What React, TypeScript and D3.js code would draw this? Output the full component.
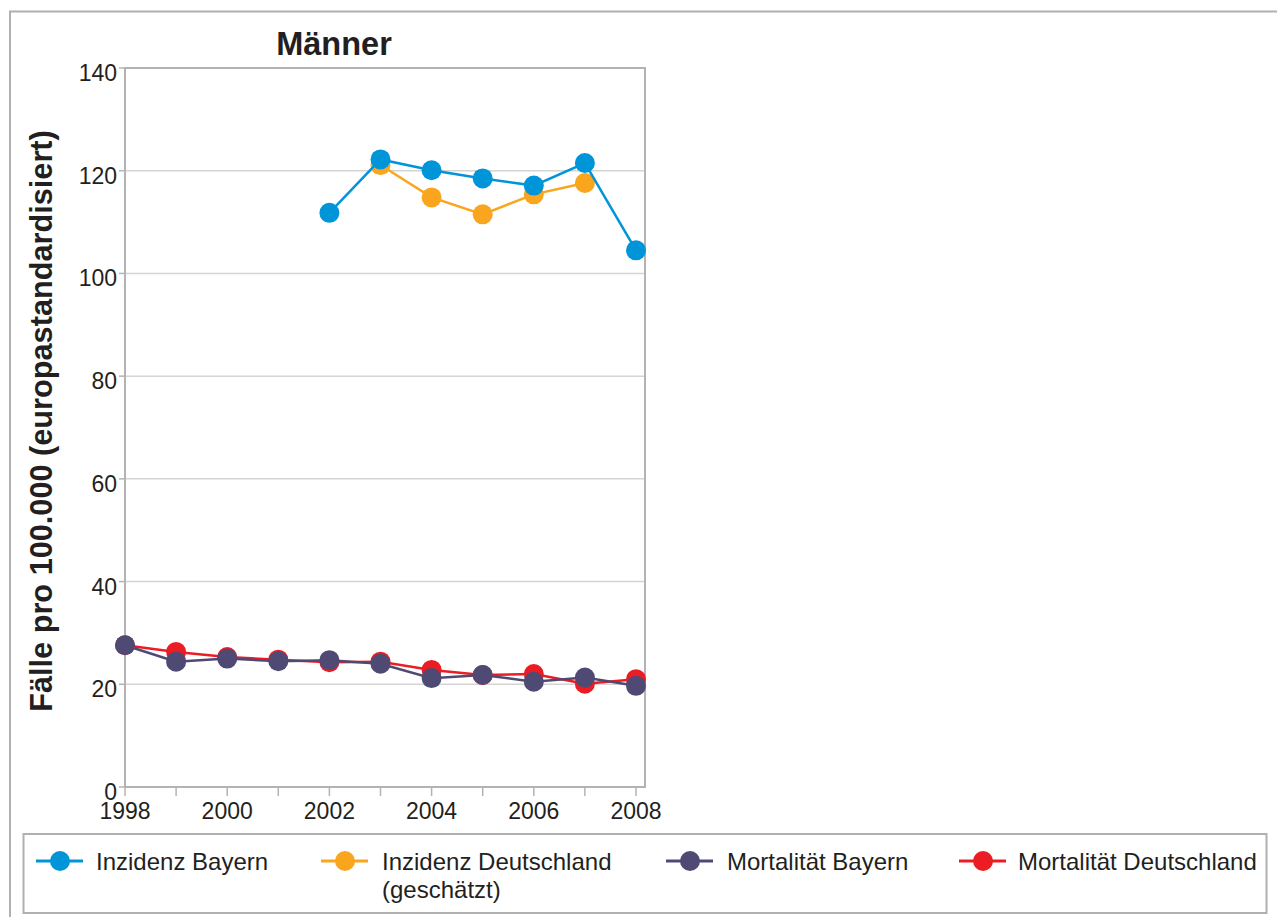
import React from "react";
import * as d3 from "d3";

const years = [1998, 1999, 2000, 2001, 2002, 2003, 2004, 2005, 2006, 2007, 2008];
const inzidenzBayern: (number | null)[] = [null, null, null, null, 111.8, 122.2, 120.1, 118.5, 117.1, 121.5, 104.5];
const inzidenzDeutschland: (number | null)[] = [null, null, null, null, null, 121.1, 114.8, 111.5, 115.4, 117.6, null];
const mortalitaetBayern: (number | null)[] = [27.6, 24.4, 25.0, 24.5, 24.7, 24.0, 21.2, 21.8, 20.5, 21.3, 19.7];
const mortalitaetDeutschland: (number | null)[] = [27.6, 26.3, 25.3, 24.8, 24.3, 24.4, 22.8, 21.8, 22.0, 20.1, 21.0];
const yTicks = [0, 20, 40, 60, 80, 100, 120, 140];
const xTickLabels = [1998, 2000, 2002, 2004, 2006, 2008];

const seriesNames = ["Inzidenz Bayern", "Inzidenz Deutschland", "Mortalität Bayern", "Mortalität Deutschland"];
const seriesColors = ["#0095d9", "#f9a61e", "#4f4a74", "#ec1c24"];
const seriesData = [inzidenzBayern, inzidenzDeutschland, mortalitaetBayern, mortalitaetDeutschland];
const drawOrder = [1, 0, 3, 2];

const FONT = "'Liberation Sans', Arial, Helvetica, sans-serif";

export default function App() {
  const W = 1277, H = 917;
  const left = 125, right = 645, top = 68, bottom = 787;
  const x = d3.scaleLinear().domain([1998, 2008]).range([left, 636]);
  const y = d3.scaleLinear().domain([0, 140]).range([bottom, top]);
  const line = d3
    .line<[number, number | null]>()
    .defined((d) => d[1] != null)
    .x((d) => x(d[0]))
    .y((d) => y(d[1] as number));

  const legendItems = [
    { cx: 60, tx: 96 },
    { cx: 345, tx: 382 },
    { cx: 690, tx: 727 },
    { cx: 983, tx: 1018 },
  ];

  return (
    <svg
      width={W}
      height={H}
      style={{ position: "fixed", left: 0, top: 0, display: "block", background: "#fff" }}
      fontFamily={FONT}
    >
      <rect x={0} y={0} width={W} height={H} fill="#fff" />
      {/* outer frame */}
      <path d={`M10,${H + 5} V11.5 H${W + 5}`} fill="none" stroke="#b0b0b0" strokeWidth={2} />

      {/* title */}
      <text x={334} y={55} textAnchor="middle" fontSize={32.5} fontWeight="bold" fill="#231f20">
        Männer
      </text>

      {/* gridlines */}
      {yTicks.slice(1, -1).map((t) => (
        <line key={t} x1={left} x2={right} y1={y(t)} y2={y(t)} stroke="#d4d4d4" strokeWidth={1.5} />
      ))}
      {/* plot frame */}
      <rect x={left} y={top} width={right - left} height={bottom - top} fill="none" stroke="#b3b3b3" strokeWidth={2} />
      {/* y ticks */}
      {yTicks.map((t) => (
        <g key={t}>
          <line x1={left - 6} x2={left} y1={y(t)} y2={y(t)} stroke="#b3b3b3" strokeWidth={1.5} />
          <text x={left - 8} y={y(t) + 13} textAnchor="end" fontSize={23} fill="#231f20">
            {t}
          </text>
        </g>
      ))}
      {/* x ticks */}
      {years.map((yr) => (
        <line key={yr} x1={x(yr)} x2={x(yr)} y1={bottom} y2={bottom + 9} stroke="#b3b3b3" strokeWidth={1.5} />
      ))}
      {xTickLabels.map((yr) => (
        <text key={yr} x={x(yr)} y={819} textAnchor="middle" fontSize={23} fill="#231f20">
          {yr}
        </text>
      ))}

      {/* y title */}
      <text
        transform={`translate(52,421) rotate(-90)`}
        textAnchor="middle"
        fontSize={30.7}
        fontWeight="bold"
        fill="#231f20"
      >
        Fälle pro 100.000 (europastandardisiert)
      </text>

      {/* series */}
      {drawOrder.map((si) => {
        const pts = years.map((yr, i) => [yr, seriesData[si][i]] as [number, number | null]);
        return (
          <g key={si}>
            <path d={line(pts) || ""} fill="none" stroke={seriesColors[si]} strokeWidth={2.5} />
            {pts
              .filter((p) => p[1] != null)
              .map((p) => (
                <circle key={p[0]} cx={x(p[0])} cy={y(p[1] as number)} r={10} fill={seriesColors[si]} />
              ))}
          </g>
        );
      })}

      {/* legend */}
      <rect x={23.5} y={834} width={1243} height={79} fill="#fff" stroke="#b0b0b0" strokeWidth={2} />
      {seriesNames.map((name, i) => {
        const it = legendItems[i];
        const cy = 861;
        return (
          <g key={name}>
            <line x1={it.cx - 24} x2={it.cx + 23} y1={cy} y2={cy} stroke={seriesColors[i]} strokeWidth={3} />
            <circle cx={it.cx} cy={cy} r={10} fill={seriesColors[i]} />
            {i === 1 ? (
              <text x={it.tx} y={870} fontSize={24} fill="#231f20">
                <tspan x={it.tx}>Inzidenz Deutschland</tspan>
                <tspan x={it.tx} y={898}>(geschätzt)</tspan>
              </text>
            ) : (
              <text x={it.tx} y={870} fontSize={24} fill="#231f20">
                {name}
              </text>
            )}
          </g>
        );
      })}
    </svg>
  );
}
